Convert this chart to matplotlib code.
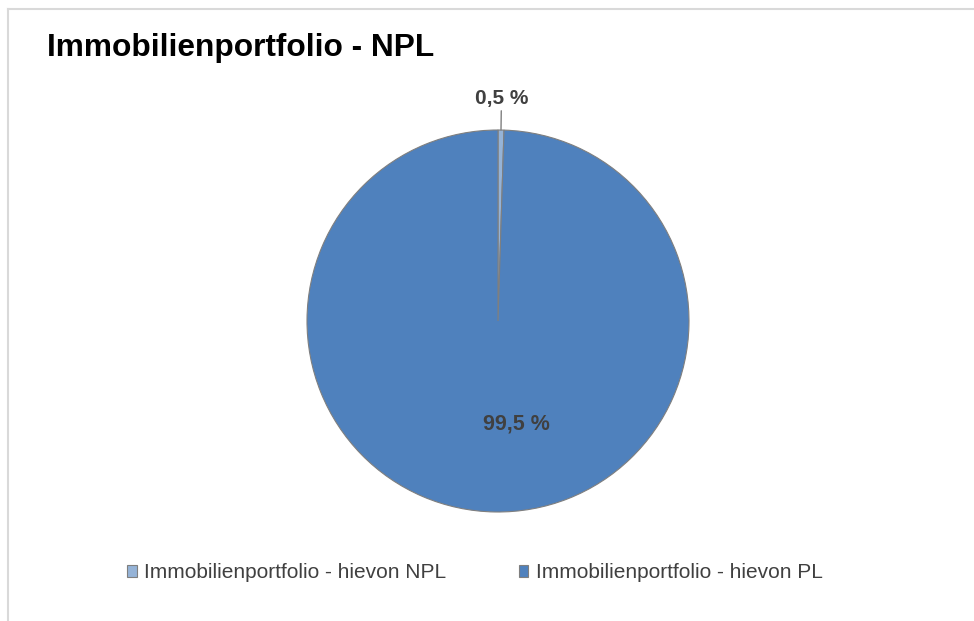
import matplotlib
matplotlib.use('Agg')
import matplotlib.pyplot as plt
from matplotlib.lines import Line2D
import numpy as np

title = 'Immobilienportfolio - NPL'
labels = ['Immobilienportfolio - hievon NPL', 'Immobilienportfolio - hievon PL']
shares = [0.5, 99.5]
value_labels = ['0,5 %', '99,5 %']
colors = ['#95B3D7', '#4F81BD']

plt.rcParams['font.family'] = ['Liberation Sans', 'DejaVu Sans']

W, H = 974, 621
fig = plt.figure(figsize=(W / 100, H / 100), dpi=100)
fig.patch.set_facecolor('white')

# light grey chart frame (left and top edge visible)
fig.add_artist(Line2D([8 / W, 8 / W], [0, 1 - 9 / H], color='#d9d9d9', lw=1.5))
fig.add_artist(Line2D([8 / W, 1], [1 - 9 / H, 1 - 9 / H], color='#d9d9d9', lw=1.5))

fig.text(47 / W, 1 - 48 / H, title, fontsize=22.8, fontweight='bold',
         color='black', va='center', ha='left')

# pie axes placed by pixels: centre (498, 321), radius 191
r = 191
cx, cy = 498, 321
ax = fig.add_axes([(cx - r) / W, (H - cy - r) / H, 2 * r / W, 2 * r / H])
wedges, _ = ax.pie(shares, colors=colors, startangle=90, counterclock=False,
                   radius=1, wedgeprops=dict(edgecolor='#7f7f7f', linewidth=0.8))
ax.set_xlim(-1, 1)
ax.set_ylim(-1, 1)
ax.set_aspect('equal')
ax.axis('off')

# small slice label above with leader line
w0 = wedges[0]
ang0 = np.deg2rad((w0.theta1 + w0.theta2) / 2)
x0, y0 = np.cos(ang0), np.sin(ang0)
ax.annotate(value_labels[0], xy=(x0, y0), xytext=(x0 * 1.15, y0 * 1.165),
            ha='center', va='center', fontsize=15, fontweight='bold', color='#404040',
            arrowprops=dict(arrowstyle='-', color='#7f7f7f', lw=1,
                            shrinkA=0, shrinkB=0),
            annotation_clip=False)

# big slice label inside
w1 = wedges[1]
ang1 = np.deg2rad((w1.theta1 + w1.theta2) / 2)
ax.text(np.cos(ang1) * 0.54 + 0.105, np.sin(ang1) * 0.54, value_labels[1],
        ha='center', va='center', fontsize=15.5, fontweight='bold', color='#404040')

handles = [plt.Rectangle((0, 0), 1, 1, facecolor=c, edgecolor='#7f7f7f', lw=0.8)
           for c in colors]
fig.legend(handles, labels, loc='center', bbox_to_anchor=(475 / W, 1 - 573 / H),
           ncol=2, frameon=False, fontsize=15, handlelength=0.45, handleheight=0.45,
           handletextpad=0.35, columnspacing=3.5, labelcolor='#404040')

fig.savefig('out.png', dpi=100, facecolor='white')
